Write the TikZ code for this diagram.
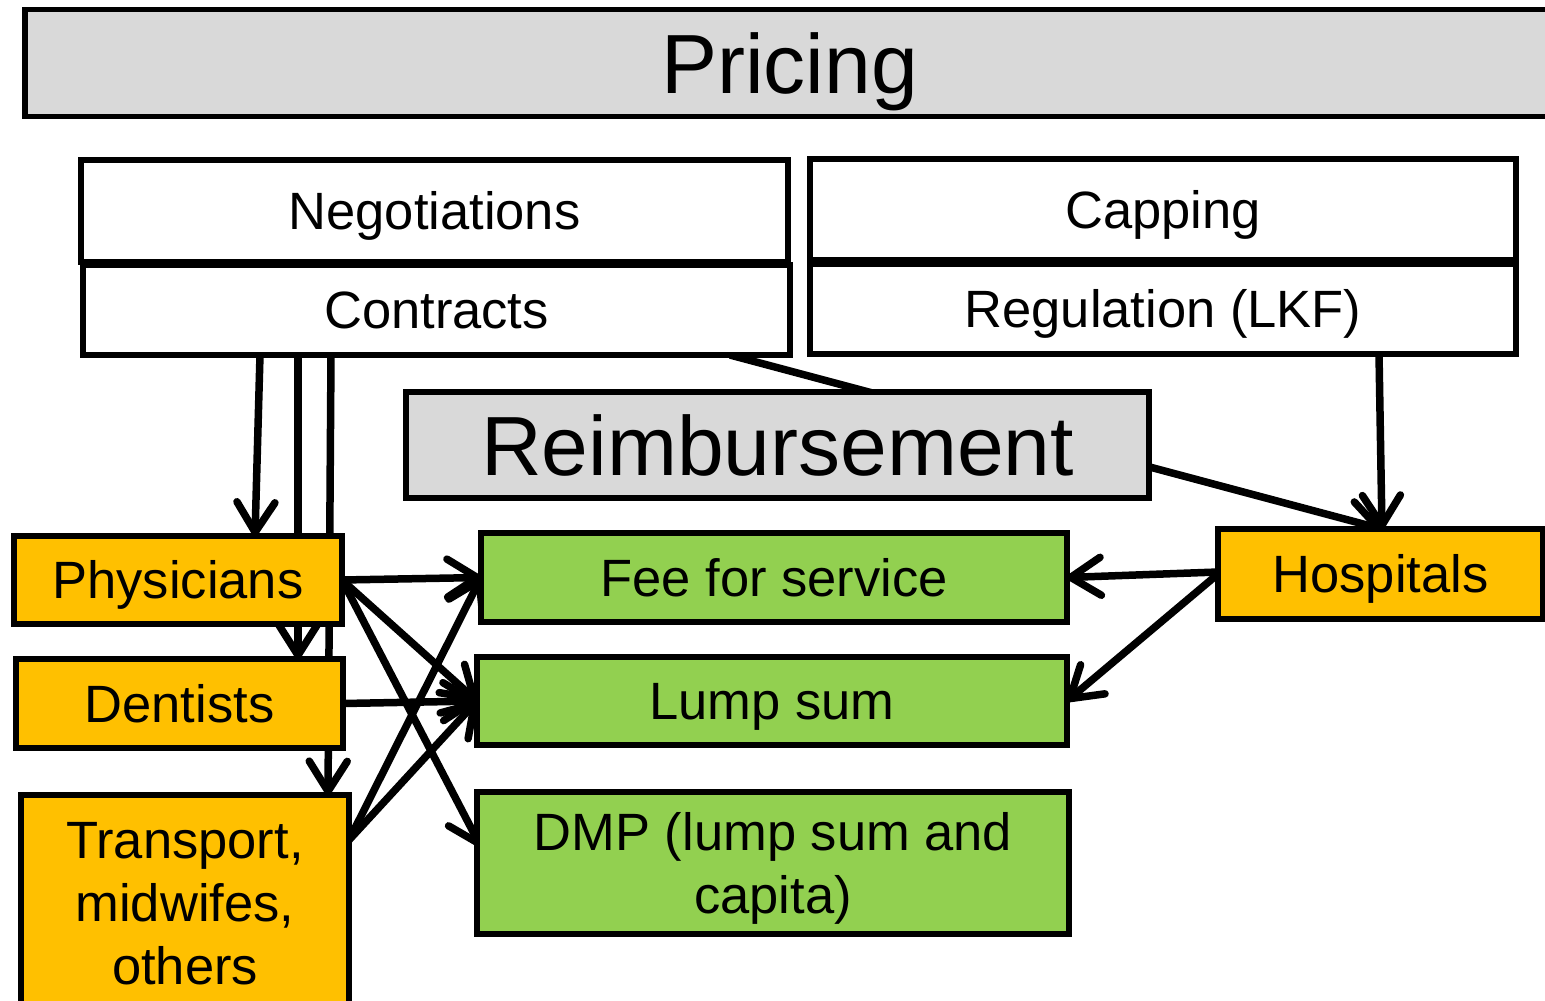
\documentclass[tikz,border=0pt]{standalone}
\usepackage{fontspec}
\setmainfont{Liberation Sans}
\usetikzlibrary{arrows.meta,backgrounds}
\definecolor{gbox}{HTML}{D9D9D9}
\definecolor{obox}{HTML}{FFC000}
\definecolor{grbox}{HTML}{92D050}
\tikzset{
  bx/.style={draw=black, line width=5.5pt, inner sep=0pt, outer sep=0pt, align=center,
    font=\fontsize{52.5}{63}\selectfont, text height=37.6pt, text depth=0pt},
  bigbx/.style={bx, fill=gbox, font=\fontsize{84}{100}\selectfont, text height=60pt, text depth=0pt},
  whitebx/.style={bx, fill=white},
  orbx/.style={bx, fill=obox},
  grbx/.style={bx, fill=grbox},
  arr/.style={draw=black, line width=7.5pt, -{Straight Barb[length=30pt,width=38pt,round]}}
}
\begin{document}
\begin{tikzpicture}[x=1pt,y=-1pt]
\useasboundingbox (0,0) rectangle (1545,1001);
\clip (0,0) rectangle (1545,1001);
% top band
\node[bigbx, minimum width=1529pt, minimum height=107pt] (pri) at (789.5,63) {Pricing};
% instruments
\node[whitebx, minimum width=707pt, minimum height=102pt] (neg) at (434.5,211) {Negotiations};
\node[whitebx, minimum width=707pt, minimum height=90pt] (con) at (436.5,310) {Contracts};
\node[whitebx, minimum width=706pt, minimum height=101pt] (cap) at (1163,209.5) {Capping};
\node[whitebx, minimum width=706pt, minimum height=90pt] (reg) at (1163,309) {Regulation (LKF)};
% reimbursement band
\node[bigbx, minimum width=743pt, minimum height=106pt] (rei) at (777.5,445) {Reimbursement};
% providers
\node[orbx, minimum width=328pt, minimum height=88pt] (phy) at (178,580) {Physicians};
\node[orbx, minimum width=327pt, minimum height=89pt] (den) at (179.5,703.5) {Dentists};
\node[orbx, minimum width=328pt, minimum height=215pt, text height=164pt, text depth=0pt] (tra) at (185,902.5) {Transport,\\midwifes,\\others};
\node[orbx, minimum width=325pt, minimum height=90pt] (hos) at (1380.5,574) {Hospitals};
% payment forms
\node[grbx, minimum width=586pt, minimum height=89pt] (fee) at (774,577.5) {Fee for service};
\node[grbx, minimum width=590pt, minimum height=88pt] (lump) at (772,701) {Lump sum};
\node[grbx, minimum width=592pt, minimum height=142pt, text height=100.6pt, text depth=0pt] (dmp) at (773,863) {DMP (lump sum and\\capita)};
% connectors
\begin{scope}[on background layer]
\draw[arr] (260,0 |- con.south) -- (255,0 |- phy.north);
\draw[arr] (298,0 |- con.south) -- (298,0 |- den.north);
\draw[arr] (331,0 |- con.south) -- (328,0 |- tra.north);
\draw[arr] (phy.east) -- (fee.west);
\draw[arr] (phy.east) -- (lump.west);
\draw[arr] (phy.east) -- ([shift={(4pt,16pt)}]dmp.west);
\draw[arr] (den.east) -- (lump.west);
\draw[arr] ([yshift=-45pt]tra.north east) -- (fee.west);
\draw[arr] ([yshift=-45pt]tra.north east) -- (lump.west);
\draw[arr] ([yshift=2pt]hos.west) -- (fee.east);
\draw[arr] (hos.west) -- (lump.east);
\draw[arr] (1379,0 |- reg.south) -- (1382,0 |- hos.north);
\draw[arr] (730,0 |- con.south) -- (1382,0 |- hos.north);
\end{scope}
\end{tikzpicture}
\end{document}
